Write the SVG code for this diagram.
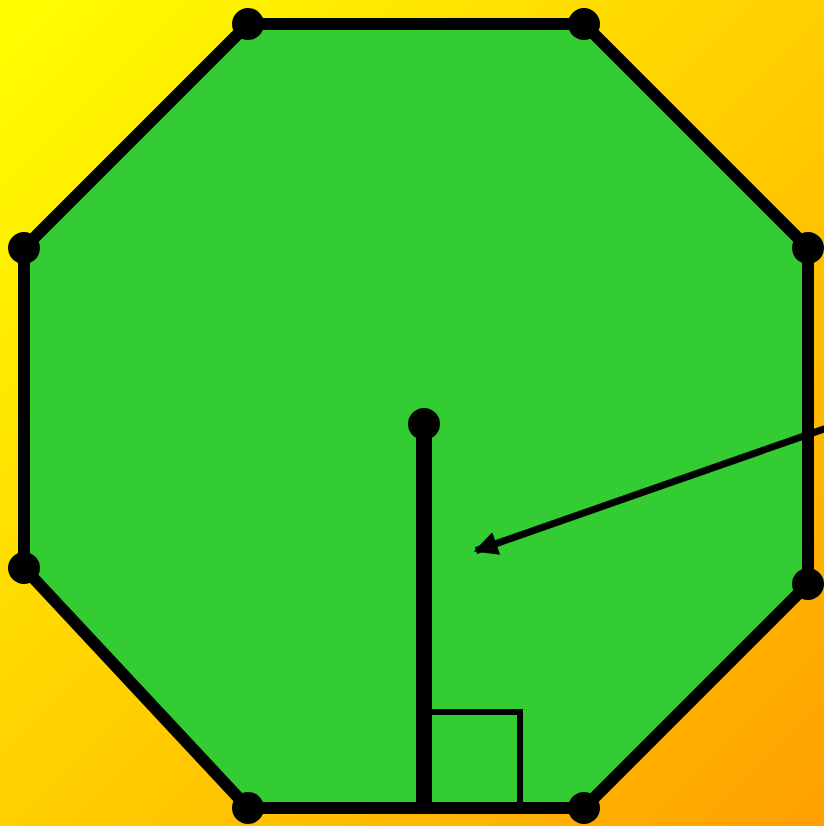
<svg xmlns="http://www.w3.org/2000/svg" width="824" height="826" viewBox="0 0 824 826">
<defs>
<linearGradient id="bg" x1="0" y1="0" x2="1" y2="1">
<stop offset="0" stop-color="#ffff00"/>
<stop offset="1" stop-color="#ffa000"/>
</linearGradient>
<marker id="ah" viewBox="0 0 10 10" refX="9" refY="5" markerWidth="3.6" markerHeight="3.4" orient="auto" markerUnits="strokeWidth">
<path d="M0,0 L10,5 L0,10 z" fill="#000"/>
</marker>
<style>
.edge{fill:#33cc33;stroke:#000;stroke-width:12;stroke-linejoin:miter}
.v{fill:#000}
.conn{stroke:#000;fill:none}
</style>
</defs>
<rect width="824" height="826" fill="url(#bg)"/>
<g id="octagon">
<polygon class="edge" points="248,24 584,24 808,248 808,584 584,808 248,808 24,568 24,248"/>
</g>
<g id="connectors">
<line class="conn" x1="424" y1="424" x2="424" y2="808" stroke-width="16"/>
<polyline class="conn" points="424,712 520,712 520,808" stroke-width="6"/>
<line class="conn" x1="840" y1="423.4" x2="476" y2="550.6" stroke-width="7" marker-end="url(#ah)"/>
</g>
<g id="vertices">
<circle class="v" cx="248" cy="24" r="16"/>
<circle class="v" cx="584" cy="24" r="16"/>
<circle class="v" cx="808" cy="248" r="16"/>
<circle class="v" cx="808" cy="584" r="16"/>
<circle class="v" cx="584" cy="808" r="16"/>
<circle class="v" cx="248" cy="808" r="16"/>
<circle class="v" cx="24" cy="568" r="16"/>
<circle class="v" cx="24" cy="248" r="16"/>
</g>
<g id="center">
<circle class="v" cx="424" cy="424" r="16"/>
</g>
</svg>
